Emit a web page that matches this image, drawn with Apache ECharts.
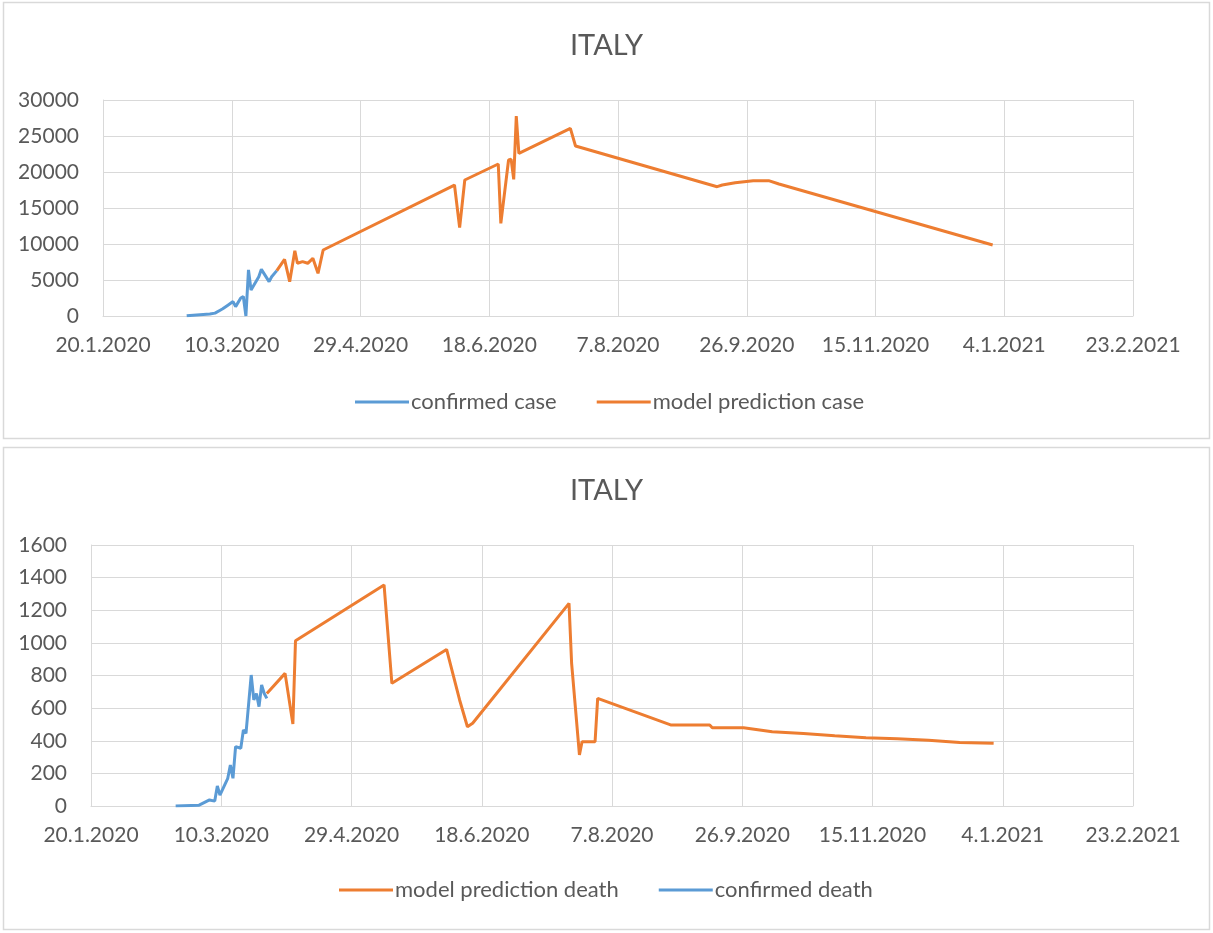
<!DOCTYPE html>
<html>
<head>
<meta charset="utf-8">
<script src="https://cdn.jsdelivr.net/npm/echarts@6/dist/echarts.min.js"></script>
<style>
html,body{margin:0;padding:0;background:#fff;}
#c{width:1213px;height:933px;}
</style>
</head>
<body>
<div id="c"></div>
<script>
// ---------- data ----------
const xTickLabels = ['20.1.2020','10.3.2020','29.4.2020','18.6.2020','7.8.2020','26.9.2020','15.11.2020','4.1.2021','23.2.2021'];

const caseConfirmedDates  = ['2020-02-21','2020-03-01','2020-03-03','2020-03-05','2020-03-06','2020-03-08','2020-03-10','2020-03-11','2020-03-13','2020-03-14','2020-03-15','2020-03-16','2020-03-17','2020-03-20','2020-03-21','2020-03-24','2020-03-25','2020-03-27'];
const caseConfirmedValues = [20, 280, 400, 800, 1000, 1500, 2000, 1300, 2500, 2700, 0, 6400, 3600, 5460, 6480, 4770, 5460, 6300];

const casePredDates  = ['2020-03-27','2020-03-30','2020-04-01','2020-04-03','2020-04-04','2020-04-06','2020-04-08','2020-04-10','2020-04-12','2020-04-14','2020-06-04','2020-06-06','2020-06-08','2020-06-21','2020-06-22','2020-06-25','2020-06-26','2020-06-27','2020-06-28','2020-06-29','2020-07-19','2020-07-21','2020-09-14','2020-09-16','2020-09-21','2020-09-28','2020-10-04','2020-10-08','2020-12-30'];
const casePredValues = [6300, 7870, 4770, 9070, 7320, 7550, 7320, 8010, 5930, 9170, 18190, 12270, 18890, 21110, 12870, 21670, 21760, 18980, 27780, 22590, 26070, 23610, 17960, 18190, 18520, 18800, 18800, 18330, 9860];

const deathPredDates  = ['2020-03-27','2020-04-03','2020-04-06','2020-04-07','2020-05-11','2020-05-14','2020-06-04','2020-06-09','2020-06-12','2020-06-14','2020-07-21','2020-07-22','2020-07-25','2020-07-26','2020-07-31','2020-08-01','2020-08-29','2020-09-13','2020-09-14','2020-09-26','2020-10-07','2020-10-19','2020-10-31','2020-11-12','2020-11-24','2020-12-06','2020-12-18','2020-12-31'];
const deathPredValues = [690, 813, 503, 1013, 1355, 752, 960, 650, 486, 507, 1242, 875, 313, 394, 394, 660, 497, 497, 480, 480, 455, 445, 431, 419, 413, 403, 390, 384];

const deathConfirmedDates  = ['2020-02-21','2020-03-01','2020-03-05','2020-03-07','2020-03-08','2020-03-09','2020-03-12','2020-03-13','2020-03-14','2020-03-15','2020-03-17','2020-03-18','2020-03-19','2020-03-21','2020-03-22','2020-03-23','2020-03-24','2020-03-25','2020-03-26','2020-03-27'];
const deathConfirmedValues = [0, 5, 37, 30, 123, 67, 170, 251, 170, 364, 354, 466, 445, 803, 650, 690, 609, 742, 690, 660];

// ---------- helpers ----------
const BASE = Date.UTC(2020, 0, 20);
function dayIndex(s) {
  const p = s.split('-').map(Number);
  return (Date.UTC(p[0], p[1] - 1, p[2]) - BASE) / 86400000;
}
// Excel date axis plots points between tick marks (centre of day slot)
function pairs(dates, vals) { return dates.map((d, i) => [dayIndex(d) + 0.5, vals[i]]); }

const BLUE = '#5B9BD5', ORANGE = '#ED7D31', GRID = '#d9d9d9', TXT = '#595959';
const FONT = 'Lato';

function xAxis(gi) {
  return {
    type: 'value', gridIndex: gi, min: 0, max: 400, interval: 50,
    axisLine: { show: true, lineStyle: { color: GRID, width: 1 } },
    axisTick: { show: false },
    splitLine: { show: true, lineStyle: { color: GRID, width: 1 } },
    axisLabel: { color: TXT, fontSize: 21, fontFamily: FONT, margin: 19,
      formatter: v => xTickLabels[Math.round(v / 50)] }
  };
}
function yAxis(gi, max, interval) {
  return {
    type: 'value', gridIndex: gi, min: 0, max: max, interval: interval,
    axisLine: { show: true, lineStyle: { color: GRID, width: 1 } },
    axisTick: { show: false },
    splitLine: { show: true, lineStyle: { color: GRID, width: 1 } },
    axisLabel: { color: TXT, fontSize: 21, fontFamily: FONT, margin: 24, formatter: v => String(v) }
  };
}
function line(name, data, color, xi) {
  return { name, type: 'line', xAxisIndex: xi, yAxisIndex: xi, data, showSymbol: false, symbol: 'none',
    lineStyle: { color, width: 3 }, itemStyle: { color }, animation: false };
}

const chart = echarts.init(document.getElementById('c'), null, { renderer: 'canvas' });
chart.setOption({
  backgroundColor: '#fff',
  animation: false,
  graphic: [
    { type: 'rect', shape: { x: 3.5, y: 2.5, width: 1206, height: 436 }, style: { fill: 'none', stroke: GRID, lineWidth: 1.5 }, silent: true },
    { type: 'rect', shape: { x: 3.5, y: 447.5, width: 1206, height: 482 }, style: { fill: 'none', stroke: GRID, lineWidth: 1.5 }, silent: true }
  ],
  title: [
    { text: 'ITALY', left: 'center', top: 26, textStyle: { fontSize: 29, fontWeight: 'normal', color: TXT, fontFamily: FONT } },
    { text: 'ITALY', left: 'center', top: 471, textStyle: { fontSize: 29, fontWeight: 'normal', color: TXT, fontFamily: FONT } }
  ],
  legend: [
    { data: ['confirmed case', 'model prediction case'], left: 350, top: 386, icon: 'rect', itemWidth: 54, itemHeight: 3, itemGap: 40,
      textStyle: { color: TXT, fontSize: 22, fontFamily: FONT, padding: [0, 0, 0, -3] } },
    { data: ['model prediction death', 'confirmed death'], left: 334, top: 874, icon: 'rect', itemWidth: 54, itemHeight: 3, itemGap: 40,
      textStyle: { color: TXT, fontSize: 22, fontFamily: FONT, padding: [0, 0, 0, -3] } }
  ],
  grid: [
    { left: 103, top: 100, width: 1030, height: 216 },
    { left: 91, top: 545, width: 1042, height: 261 }
  ],
  xAxis: [xAxis(0), xAxis(1)],
  yAxis: [yAxis(0, 30000, 5000), yAxis(1, 1600, 200)],
  series: [
    line('confirmed case', pairs(caseConfirmedDates, caseConfirmedValues), BLUE, 0),
    line('model prediction case', pairs(casePredDates, casePredValues), ORANGE, 0),
    line('model prediction death', pairs(deathPredDates, deathPredValues), ORANGE, 1),
    line('confirmed death', pairs(deathConfirmedDates, deathConfirmedValues), BLUE, 1)
  ]
});
</script>
</body>
</html>
